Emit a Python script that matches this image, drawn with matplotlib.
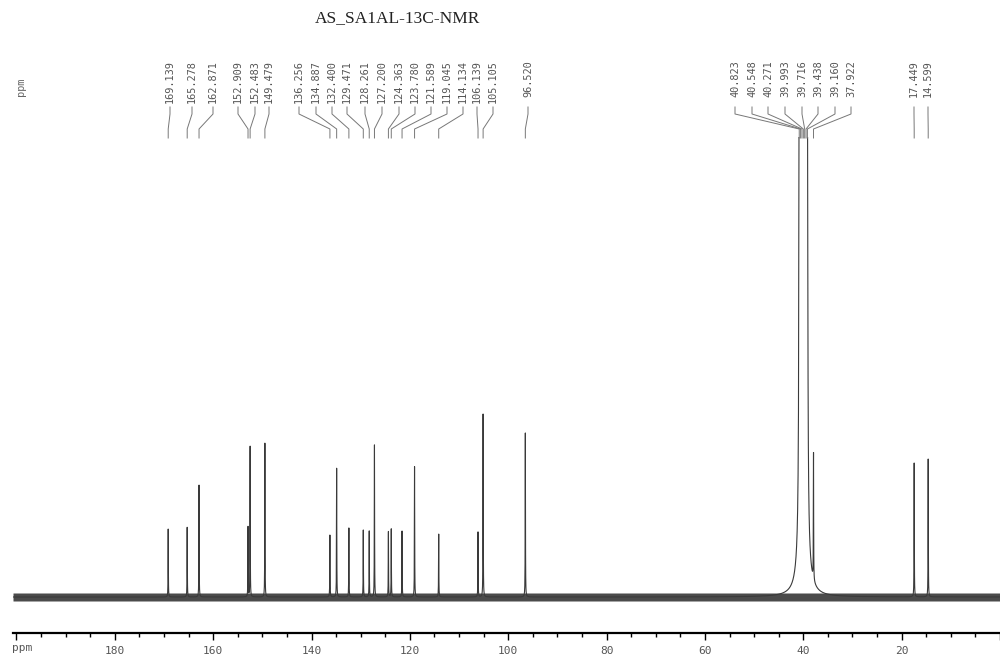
import numpy as np
import matplotlib
matplotlib.use('Agg')
import matplotlib.pyplot as plt
from matplotlib.lines import Line2D
from matplotlib.ticker import MultipleLocator, FuncFormatter

# picos aromaticos / carbonila (ppm, altura)
arom_ppm = [169.139, 165.278, 162.871, 152.909, 152.483, 149.479, 136.256,
            134.887, 132.400, 129.471, 128.261, 127.200, 124.363, 123.780,
            121.589, 119.045, 114.134, 106.139, 105.105, 96.520]
arom_int = [68, 70, 112, 70, 152, 154, 63, 130, 69, 67, 66, 152, 66, 68,
            66, 134, 64, 65, 188, 164]

# septeto do DMSO-d6
dmso_ppm = [40.823, 40.548, 40.271, 39.993, 39.716, 39.438, 39.160]
dmso_int = [400, 1200, 2400, 2800, 2400, 1200, 400]

# alifaticos
alif_ppm = [37.922, 17.449, 14.599]
alif_int = [127, 134, 138]

x_ticks_major = 20
x_ticks_minor = 5

W, H = 1000, 666
fig = plt.figure(figsize=(W / 100, H / 100), dpi=100)
fig.patch.set_facecolor('white')

# eixo do espectro: base do eixo em y=633 px, topo em y=137 px
ax = fig.add_axes([13 / W, (H - 633) / H, 987 / W, (633 - 137) / H])
ax.set_xlim(200.7, 0)
ax.set_ylim(-36, 460)

ppm = np.linspace(0, 200.7, 20071)


def lorentz(x0, h, w):
    return h * w ** 2 / ((ppm - x0) ** 2 + w ** 2)


spec = np.zeros_like(ppm)
for p, h in zip(arom_ppm + alif_ppm, arom_int + alif_int):
    spec += lorentz(p, h, 0.03)
for p, h in zip(dmso_ppm, dmso_int):
    spec += lorentz(p, h, 0.08)

# faixa de ruido da linha de base
ax.fill_between(ppm, -4, 4, color='#2b2b2b', lw=0, alpha=0.85)
ax.plot(ppm, spec, color='#3a3a3a', lw=0.8)

for s in ['top', 'left', 'right']:
    ax.spines[s].set_visible(False)
ax.spines['bottom'].set_linewidth(1.6)
ax.set_yticks([])
ax.xaxis.set_major_locator(MultipleLocator(x_ticks_major))
ax.xaxis.set_minor_locator(MultipleLocator(x_ticks_minor))
ax.xaxis.set_major_formatter(FuncFormatter(
    lambda v, pos: '' if (v > 199 or v < 1) else f'{v:.0f}'))
ax.tick_params(axis='x', which='major', direction='out', length=5, width=1,
               pad=4, labelsize=8, labelcolor='#555555')
ax.tick_params(axis='x', which='minor', direction='out', length=3, width=1)
for lab in ax.get_xticklabels():
    lab.set_family('DejaVu Sans Mono')

fig.text(12 / W, 1 - 648 / H, 'ppm', ha='left', va='center',
         family='DejaVu Sans Mono', size=8, color='#555555')
fig.text(21 / W, 1 - 87 / H, 'ppm', rotation=90, ha='center', va='center',
         family='DejaVu Sans Mono', size=7.4, color='#666666')

fig.text(398 / W, 1 - 18 / H, 'AS_SA1AL-13C-NMR', ha='center', va='center',
         family='Liberation Serif', size=12.5, color='#222222')

# posicao (px) dos rotulos de deslocamento quimico
lab_ppm = arom_ppm + dmso_ppm + alif_ppm
lab_px = [170, 192, 213, 238, 255, 269, 299, 316, 332, 347, 365, 382, 399,
          415, 431, 447, 463, 477, 493, 528,
          735, 752, 768, 785, 802, 818, 835, 851, 914, 928]

conn_y = np.array([107, 114, 129, 138])
for p, lx in zip(lab_ppm, lab_px):
    fig.text(lx / W, 1 - 60 / H, f'{p:.3f}', rotation=90, ha='center',
             va='top', family='DejaVu Sans Mono', size=7.4, color='#555555')
    px = ax.transData.transform((p, 0))[0]
    xs = np.array([lx, lx, px, px])
    fig.add_artist(Line2D(xs / W, 1 - conn_y / H, color='#777777', lw=0.7))

fig.savefig('out.png', dpi=100)
